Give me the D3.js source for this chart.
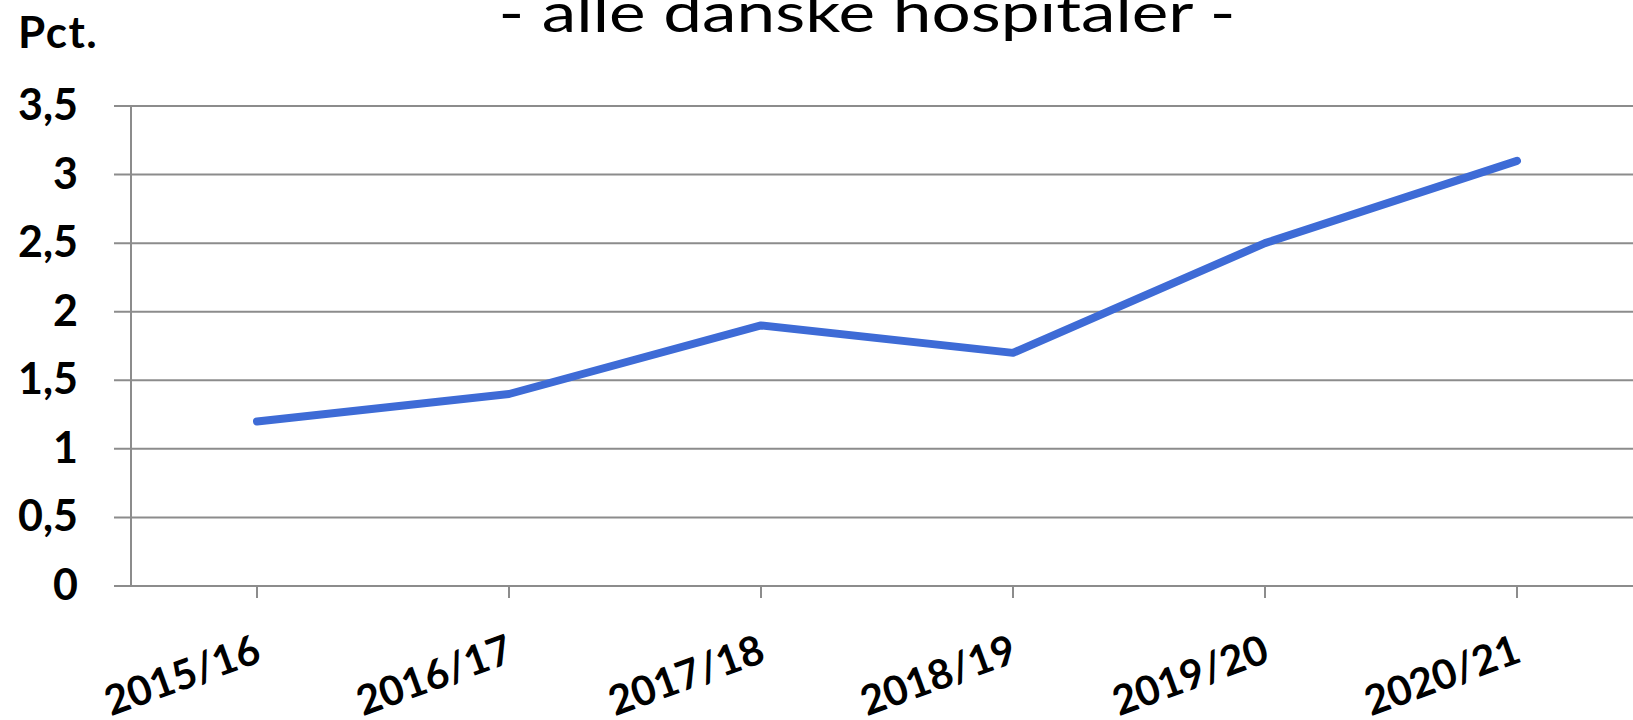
<!DOCTYPE html>
<html>
<head>
<meta charset="utf-8">
<script src="https://cdn.jsdelivr.net/npm/d3@7"></script>
<style>
  html, body { margin: 0; padding: 0; background: #ffffff; }
  svg { display: block; }
</style>
</head>
<body>
<svg id="chart" width="1633" height="720"></svg>
<script>
// Season labels and share (pct.) for all Danish hospitals
const seasons = ["2015/16", "2016/17", "2017/18", "2018/19", "2019/20", "2020/21"];
const values = [1.2, 1.4, 1.9, 1.7, 2.5, 3.1];
const yTicks = [0, 0.5, 1, 1.5, 2, 2.5, 3, 3.5];

const W = 1633, H = 720;
const axisX = 131, plotBottom = 586, plotTop = 106, bandW = 252;
const gridStart = 114;

const svg = d3.select("#chart");
const da = d3.formatLocale({ decimal: ",", thousands: ".", grouping: [3], currency: ["", " kr."] });
const fmt = da.format("~g");

const x = d3.scaleBand()
  .domain(seasons)
  .range([axisX, axisX + bandW * seasons.length])
  .paddingInner(0).paddingOuter(0);
const xc = d => x(d) + x.bandwidth() / 2;

const y = d3.scaleLinear().domain([0, 3.5]).range([plotBottom, plotTop]);

// Title (upper part sits above the frame), set wide
svg.append("text")
  .attr("transform", "translate(867,32) scale(1.26,1)")
  .attr("text-anchor", "middle")
  .attr("font-family", "Lato, 'Open Sans', sans-serif")
  .attr("font-size", 55)
  .attr("fill", "#000")
  .text("- alle danske hospitaler -");

// Unit label
svg.append("text")
  .attr("x", 18).attr("y", 48)
  .attr("font-family", "Lato, sans-serif")
  .attr("font-weight", "bold")
  .attr("font-size", 44)
  .attr("letter-spacing", 1.5)
  .attr("fill", "#000")
  .text("Pct.");

// Horizontal gridlines
svg.append("g").selectAll("line")
  .data(yTicks)
  .join("line")
  .attr("x1", gridStart).attr("x2", W)
  .attr("y1", d => y(d)).attr("y2", d => y(d))
  .attr("stroke", "#8c8c8c").attr("stroke-width", 2);

// Vertical axis line
svg.append("line")
  .attr("x1", axisX).attr("x2", axisX)
  .attr("y1", y(3.5)).attr("y2", y(0))
  .attr("stroke", "#8c8c8c").attr("stroke-width", 2);

// Y tick labels
svg.append("g").selectAll("text")
  .data(yTicks)
  .join("text")
  .attr("x", 78)
  .attr("y", d => y(d) + 14)
  .attr("text-anchor", "end")
  .attr("font-family", "Lato, sans-serif")
  .attr("font-weight", "bold")
  .attr("font-size", 43)
  .attr("fill", "#000")
  .text(d => fmt(d));

// X tick marks
svg.append("g").selectAll("line")
  .data(seasons)
  .join("line")
  .attr("x1", d => xc(d)).attr("x2", d => xc(d))
  .attr("y1", plotBottom).attr("y2", plotBottom + 12)
  .attr("stroke", "#8c8c8c").attr("stroke-width", 2);

// X tick labels, rotated
svg.append("g").selectAll("text")
  .data(seasons)
  .join("text")
  .attr("transform", d => `translate(${xc(d) + 6},${plotBottom + 75}) rotate(-20)`)
  .attr("text-anchor", "end")
  .attr("font-family", "Lato, sans-serif")
  .attr("font-weight", "bold")
  .attr("font-size", 41)
  .attr("fill", "#000")
  .text(d => d);

// Data line
const line = d3.line()
  .x((d, i) => xc(seasons[i]))
  .y(d => y(d));

svg.append("path")
  .datum(values)
  .attr("d", line)
  .attr("fill", "none")
  .attr("stroke", "#3e6bd6")
  .attr("stroke-width", 8)
  .attr("stroke-linecap", "round")
  .attr("stroke-linejoin", "round");
</script>
</body>
</html>
